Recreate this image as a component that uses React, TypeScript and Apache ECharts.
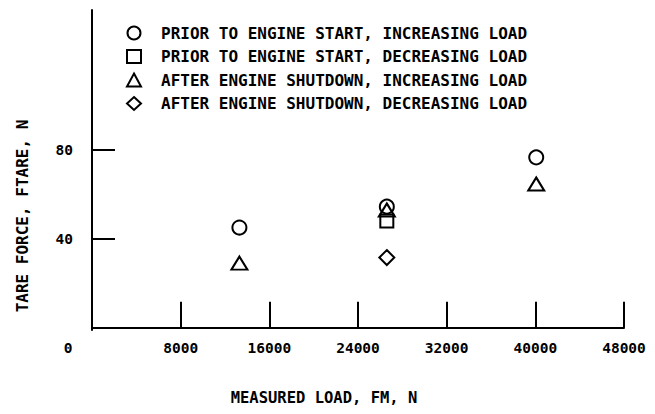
import React, { useEffect, useRef } from "react";
import * as echarts from "echarts";

const xTickValues = [8000, 16000, 24000, 32000, 40000, 48000];
const xLabelValues = [0, 8000, 16000, 24000, 32000, 40000, 48000];
const yTickValues = [40, 80];
const yLabelValues = [40, 80];

const seriesNames = [
  "PRIOR TO ENGINE START, INCREASING LOAD",
  "PRIOR TO ENGINE START, DECREASING LOAD",
  "AFTER ENGINE SHUTDOWN, INCREASING LOAD",
  "AFTER ENGINE SHUTDOWN, DECREASING LOAD",
];
const seriesSymbols = ["circle", "rect", "triangle", "diamond"];

const priorIncreasing = [
  [13300, 45.1],
  [26600, 54.5],
  [40080, 76.7],
];
const priorDecreasing = [[26600, 48]];
const afterIncreasing = [
  [13300, 29.1],
  [26600, 53],
  [40080, 64.7],
];
const afterDecreasing = [[26600, 31.6]];

const xTitle = "MEASURED LOAD, FM, N";
const yTitle = "TARE FORCE, FTARE, N";

const FONT = "'DejaVu Sans Mono', 'Liberation Mono', monospace";
const WEIGHT = "bold";

export default function App() {
  const ref = useRef<HTMLDivElement>(null);
  useEffect(() => {
    if (!ref.current) return;
    const chart = echarts.init(ref.current, undefined, { renderer: "svg" });
    const data = [priorIncreasing, priorDecreasing, afterIncreasing, afterDecreasing];
    const sizes: any[] = [14, 13, [16, 13], 15];
    chart.setOption({
      animation: false,
      backgroundColor: "#fff",
      textStyle: { fontFamily: FONT, color: "#000" },
      grid: { left: 92, right: 31, top: 10, bottom: 84 },
      legend: {
        orient: "vertical",
        left: 121,
        top: 20,
        itemWidth: 14,
        itemHeight: 13,
        itemGap: 7.5,
        data: seriesNames.map((n, i) => ({ name: n, icon: seriesSymbols[i] })),
        textStyle: {
          fontFamily: FONT,
          fontWeight: WEIGHT,
          fontSize: 16,
          lineHeight: 16,
          color: "#000",
          padding: [0, 0, 0, 15],
        },
      },
      xAxis: {
        type: "value",
        min: 0,
        max: 48000,
        axisLine: { lineStyle: { color: "#000", width: 2 } },
        axisTick: {
          show: true,
          inside: true,
          length: 26,
          customValues: xTickValues,
          lineStyle: { color: "#000", width: 2 },
        },
        axisLabel: {
          customValues: xLabelValues,
          margin: 10,
          fontFamily: FONT,
          fontWeight: WEIGHT,
          fontSize: 14.5,
          color: "#000",
          formatter: (v: number) => (v === 0 ? "{z|0}" : String(v)),
          rich: {
            z: {
              fontFamily: FONT,
              fontWeight: WEIGHT,
              fontSize: 14.5,
              color: "#000",
              padding: [0, 48, 0, 0],
            },
          },
        },
        splitLine: { show: false },
      },
      yAxis: {
        type: "value",
        min: -1,
        max: 143,
        axisLine: { show: true, lineStyle: { color: "#000", width: 2 } },
        axisTick: {
          show: true,
          inside: true,
          length: 23,
          customValues: yTickValues,
          lineStyle: { color: "#000", width: 2 },
        },
        axisLabel: {
          customValues: yLabelValues,
          margin: 19,
          fontFamily: FONT,
          fontWeight: WEIGHT,
          fontSize: 14.5,
          color: "#000",
        },
        splitLine: { show: false },
      },
      graphic: [
        {
          type: "text",
          x: 22,
          y: 216,
          rotation: Math.PI / 2,
          style: {
            text: yTitle,
            fontFamily: FONT,
            fontWeight: WEIGHT,
            fontSize: 16,
            fill: "#000",
            align: "center",
            verticalAlign: "middle",
          },
        },
        {
          type: "text",
          x: 324,
          y: 398,
          style: {
            text: xTitle,
            fontFamily: FONT,
            fontWeight: WEIGHT,
            fontSize: 15.5,
            fill: "#000",
            align: "center",
            verticalAlign: "middle",
          },
        },
      ],
      series: seriesNames.map((name, i) => ({
        name,
        type: "scatter",
        symbol: seriesSymbols[i],
        symbolSize: sizes[i],
        data: data[i],
        itemStyle: { color: "rgba(255,255,255,0)", borderColor: "#000", borderWidth: 2, opacity: 1 },
        z: 3,
      })),
    });
    return () => chart.dispose();
  }, []);
  return (
    <div
      ref={ref}
      style={{ position: "fixed", left: 0, top: 0, width: 655, height: 414 }}
    />
  );
}
